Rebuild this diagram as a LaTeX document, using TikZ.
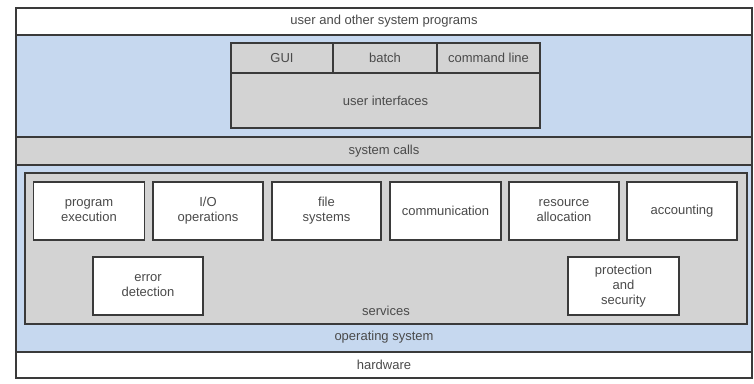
\documentclass[tikz,border=0pt]{standalone}
\usepackage{fontspec}
\setmainfont{Liberation Sans}
\definecolor{osblue}{HTML}{C6D8EF}
\definecolor{svgray}{HTML}{D3D3D3}
\definecolor{linec}{HTML}{3A3A3A}
\definecolor{txt}{HTML}{4A4A4A}
\begin{document}
\begin{tikzpicture}[x=1pt,y=-1pt,
  every node/.style={font=\fontsize{13}{15}\selectfont, text=txt, align=center, inner sep=0pt, outer sep=0pt},
  band/.style={draw=linec, line width=1.2pt, rectangle, minimum width=736pt},
  uicell/.style={draw=linec, line width=1.2pt, rectangle, fill=svgray},
  sbox/.style={draw=linec, line width=1.2pt, rectangle, fill=white, minimum width=111pt, minimum height=58pt},
  lbl/.style={}]
\fill[white] (0,0) rectangle (754,383);
\useasboundingbox (0,0) rectangle (754,383);
% bands
\node[band, fill=white, minimum height=27pt] (progs) at (384,21.5) {user and other system programs};
\node[band, fill=osblue, minimum height=102pt] (uiband) at (384,86) {};
\node[band, fill=svgray, minimum height=28pt] (syscalls) at (384,151) {system calls};
\node[band, fill=osblue, minimum height=187pt] (os) at (384,258.5) {};
\node[band, fill=white, minimum height=26pt] (hw) at (384,365) {hardware};
\node[lbl] (osname) at (384,337) {operating system};
% user interfaces
\node[uicell, minimum width=102pt, minimum height=30pt] (gui) at (282,58) {GUI};
\node[uicell, minimum width=104pt, minimum height=30pt] (batch) at (385,58) {batch};
\node[uicell, minimum width=103pt, minimum height=30pt] (cmd) at (488.5,58) {command line};
\node[uicell, minimum width=309pt, minimum height=55pt] (ui) at (385.5,100.5) {user interfaces};
% services
\node[draw=linec, line width=1.2pt, fill=svgray, minimum width=722pt, minimum height=151pt] (services) at (386,248.5) {};
\node[lbl] (svname) at (386,311) {services};
\node[sbox] (prog) at (89,211) {program\\execution};
\node[sbox, minimum width=110pt] (io) at (208,211) {I/O\\operations};
\node[sbox, minimum width=109pt] (fs) at (326.5,211) {file\\systems};
\node[sbox] (comm) at (445.5,211) {communication};
\node[sbox, minimum width=110pt] (res) at (564,211) {resource\\allocation};
\node[sbox, minimum width=110pt] (acct) at (682,211) {accounting};
\node[sbox, minimum width=110pt] (err) at (148,286) {error\\detection};
\node[sbox] (prot) at (623.5,286) {protection\\and\\security};
\end{tikzpicture}
\end{document}
